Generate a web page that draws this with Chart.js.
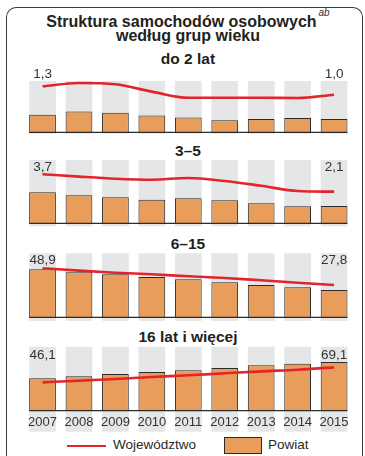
<!DOCTYPE html>
<html><head><meta charset="utf-8">
<script src="https://cdn.jsdelivr.net/npm/chart.js@4.4.1/dist/chart.umd.min.js"></script>
<style>
html,body{margin:0;padding:0;background:#fff;}
body{width:365px;height:456px;position:relative;overflow:hidden;font-family:"Liberation Sans",Arial,sans-serif;color:#231f20;}
.t{position:absolute;left:0;width:376px;text-align:center;font-weight:bold;white-space:nowrap;}
canvas{position:absolute;left:0;}
#frame{position:absolute;left:6px;top:6.5px;width:355px;height:470px;border:1.5px solid #3c3c3c;border-bottom:none;border-radius:10px 10px 0 0;}
.lg{position:absolute;font-size:13.5px;line-height:13.5px;color:#2a2a2a;white-space:nowrap;}
</style></head><body>
<div id="frame"></div>
<div class="t" style="top:13.8px;font-size:16px;line-height:16px;">Struktura samochodów osobowych<span style="font-size:10px;font-style:italic;font-weight:normal;position:relative;top:-10.5px;margin-left:2px;color:#333">ab</span></div>
<div class="t" style="top:28.2px;font-size:16px;line-height:16px;">według grup wieku</div>
<div class="t" id="pt0" style="top:51.2px;font-size:15.5px;line-height:15.5px;"></div>
<div class="t" id="pt1" style="top:142.9px;font-size:15.5px;line-height:15.5px;"></div>
<div class="t" id="pt2" style="top:236.2px;font-size:15.5px;line-height:15.5px;"></div>
<div class="t" id="pt3" style="top:329.2px;font-size:15.5px;line-height:15.5px;"></div>
<canvas id="c0" width="365" height="70" style="top:66px"></canvas>
<canvas id="c1" width="365" height="71" style="top:156px"></canvas>
<canvas id="c2" width="365" height="72" style="top:249px"></canvas>
<canvas id="c3" width="365" height="92" style="top:342px"></canvas>
<div style="position:absolute;left:67px;top:444.5px;width:39px;height:2.6px;background:#e3242b"></div>
<div class="lg" id="lgLine" style="left:113px;top:438.4px;"></div>
<div style="position:absolute;left:224px;top:437px;width:36px;height:15px;background:#e99d5b;border:1px solid #2b2b2b"></div>
<div class="lg" id="lgBar" style="left:268px;top:438.4px;"></div>
<script>
// ---- data ----
const years = ['2007','2008','2009','2010','2011','2012','2013','2014','2015'];
const panelTitles = ['do 2 lat','3\u20135','6\u201315','16 lat i więcej'];
const seriesNames = ['Województwo','Powiat'];
// Województwo (line), %
const wojDo2   = [1.3, 1.42, 1.37, 1.11, 0.89, 0.89, 0.89, 0.88, 1.0];
const woj3to5  = [3.7, 3.48, 3.29, 3.20, 3.36, 3.08, 2.64, 2.16, 2.1];
const woj6to15 = [48.9, 45.9, 43.3, 41.3, 38.8, 36.6, 33.7, 30.7, 27.8];
const woj16up  = [46.1, 48.6, 51.2, 54.3, 56.9, 60.0, 63.0, 65.5, 69.1];
// Powiat (bars), %
const powDo2   = [0.51, 0.61, 0.57, 0.49, 0.43, 0.35, 0.39, 0.42, 0.39];
const pow3to5  = [2.45, 2.21, 2.05, 1.86, 1.97, 1.82, 1.58, 1.34, 1.37];
const pow6to15 = [45.0, 42.2, 40.3, 37.8, 35.6, 32.8, 30.3, 28.1, 25.6];
const pow16up  = [50.6, 53.8, 57.3, 60.5, 63.1, 66.7, 70.9, 73.4, 76.1];

const lineSeries = [wojDo2, woj3to5, woj6to15, woj16up];
const barSeries  = [powDo2, pow3to5, pow6to15, pow16up];

// ---- layout / style (per panel) ----
const panelCfg = [
  {barMax:1.5, lineMin:-0.343, lineMax:1.489, padTop:15,  padBottom:3.7, labelOff:-3.3, grayExtra:1.6, axis:false},
  {barMax:5,   lineMin:-0.81,  lineMax:5.01,  padTop:4,   padBottom:3.7, labelOff:10.7, grayExtra:3,   axis:false},
  {barMax:60,  lineMin:-13.0,  lineMax:67.8,  padTop:4.3, padBottom:3.7, labelOff:11,   grayExtra:3.6, axis:false},
  {barMax:100, lineMin:2.6,    lineMax:100.8, padTop:4.7, padBottom:1.0, labelOff:12.6, grayExtra:21,  axis:true}
];
const RED = '#e3242b', ORANGE = '#e99d5b', GRAY = '#e5e6e8', DARK = '#2b2b2b';
const FONT = '"Liberation Sans", Arial, sans-serif';

const fmt = v => v.toFixed(1).replace('.', ',');

const decoPlugin = {
  id: 'deco',
  beforeDraw(chart, args, o) {
    const meta = chart.getDatasetMeta(1);
    const ctx = chart.ctx, ca = chart.chartArea;
    ctx.save();
    ctx.fillStyle = GRAY;
    meta.data.forEach(b => {
      ctx.fillRect(b.x - b.width / 2, ca.top, b.width, ca.bottom - ca.top + o.grayExtra);
    });
    ctx.restore();
  },
  afterDatasetsDraw(chart, args, o) {
    const meta = chart.getDatasetMeta(1);
    const ctx = chart.ctx, ca = chart.chartArea;
    const first = meta.data[0], last = meta.data[meta.data.length - 1];
    ctx.save();
    ctx.strokeStyle = DARK; ctx.lineWidth = 1.2;
    ctx.beginPath();
    ctx.moveTo(first.x - first.width / 2, ca.bottom);
    ctx.lineTo(last.x + last.width / 2, ca.bottom);
    ctx.stroke();
    // end labels of the line series
    const lm = chart.getDatasetMeta(0);
    const vals = chart.data.datasets[0].data;
    ctx.fillStyle = '#333';
    ctx.font = '13.5px ' + FONT;
    ctx.textAlign = 'center';
    ctx.textBaseline = 'alphabetic';
    const y = ca.top + o.labelOff;
    ctx.fillText(fmt(vals[0]), lm.data[0].x, y);
    ctx.fillText(fmt(vals[vals.length - 1]), lm.data[vals.length - 1].x, y);
    ctx.restore();
  }
};

panelTitles.forEach((t, i) => document.getElementById('pt' + i).textContent = t);
document.getElementById('lgLine').textContent = seriesNames[0];
document.getElementById('lgBar').textContent = seriesNames[1];

panelCfg.forEach((p, i) => {
  const xScale = {display: p.axis, grid: {display: false, drawTicks: false}, border: {display: false},
    ticks: {padding: 3.5, color: '#333', font: {family: FONT, size: 13}, maxRotation: 0, autoSkip: false}};
  if (p.axis) xScale.afterFit = s => { s.height = 22.3; };
  new Chart(document.getElementById('c' + i), {
    type: 'bar',
    data: {
      labels: years,
      datasets: [
        {type: 'line', label: seriesNames[0], data: lineSeries[i], yAxisID: 'y2', order: 0,
         borderColor: RED, borderWidth: 2.6, pointRadius: 0, cubicInterpolationMode: 'monotone', fill: false},
        {type: 'bar', label: seriesNames[1], data: barSeries[i], yAxisID: 'y', order: 1,
         backgroundColor: ORANGE, borderColor: DARK, borderWidth: 1,
         categoryPercentage: 1, barPercentage: 0.733}
      ]
    },
    options: {
      responsive: false, animation: false, devicePixelRatio: 1,
      layout: {padding: {left: 24.3, right: 12.7, top: p.padTop, bottom: p.padBottom}},
      plugins: {legend: {display: false}, tooltip: {enabled: false},
                deco: {labelOff: p.labelOff, grayExtra: p.grayExtra}},
      scales: {
        x: xScale,
        y: {display: false, min: 0, max: p.barMax},
        y2: {display: false, min: p.lineMin, max: p.lineMax}
      }
    },
    plugins: [decoPlugin]
  });
});
</script>
</body></html>
